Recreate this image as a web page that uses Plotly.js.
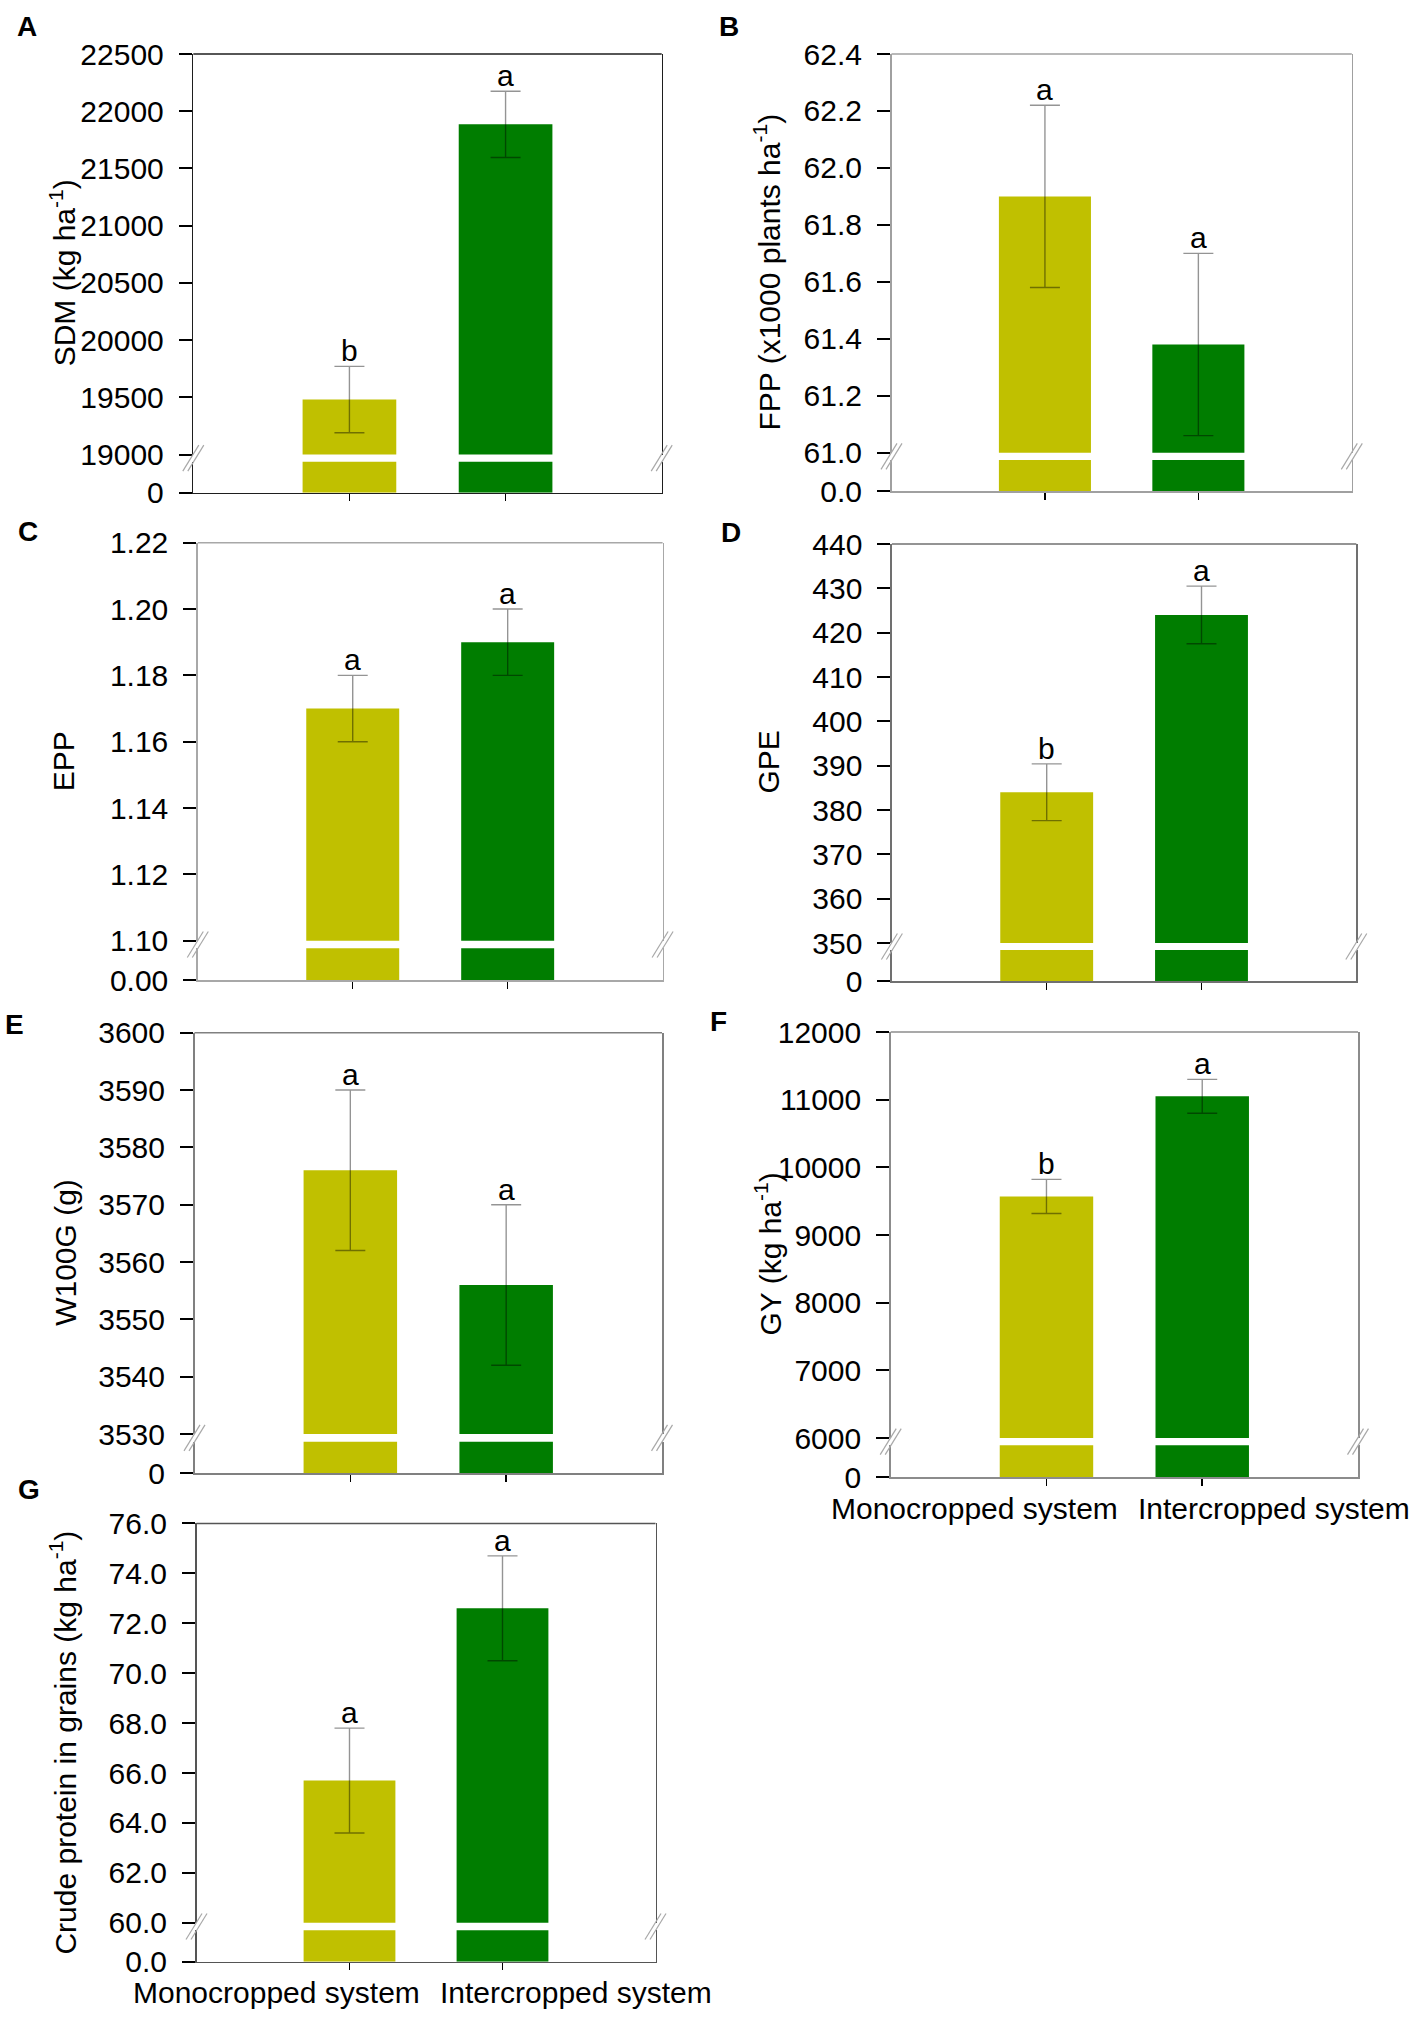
<!DOCTYPE html>
<html>
<head>
<meta charset="utf-8">
<script src="https://cdn.plot.ly/plotly-3.0.1.min.js"></script>
<style>html,body{margin:0;padding:0;background:#fff;}#chart{width:1418px;height:2018px;}</style>
</head>
<body>
<div id="chart"></div>
<script>
// ---------------- DATA ----------------
const categories = ['Monocropped system', 'Intercropped system'];
const barColors = ['#C0C000', '#007D00'];

const sdmMean = [19480, 21885];
const sdmErr = [290, 290];
const sdmLetters = ['b', 'a'];
const sdmTicks = [19000, 19500, 20000, 20500, 21000, 21500, 22000, 22500];
const sdmTickText = ['19000', '19500', '20000', '20500', '21000', '21500', '22000', '22500'];

const fppMean = [61.90, 61.38];
const fppErr = [0.32, 0.32];
const fppLetters = ['a', 'a'];
const fppTicks = [61.0, 61.2, 61.4, 61.6, 61.8, 62.0, 62.2, 62.4];
const fppTickText = ['61.0', '61.2', '61.4', '61.6', '61.8', '62.0', '62.2', '62.4'];

const eppMean = [1.17, 1.19];
const eppErr = [0.01, 0.01];
const eppLetters = ['a', 'a'];
const eppTicks = [1.10, 1.12, 1.14, 1.16, 1.18, 1.20, 1.22];
const eppTickText = ['1.10', '1.12', '1.14', '1.16', '1.18', '1.20', '1.22'];

const gpeMean = [384, 424];
const gpeErr = [6.4, 6.5];
const gpeLetters = ['b', 'a'];
const gpeTicks = [350, 360, 370, 380, 390, 400, 410, 420, 430, 440];
const gpeTickText = ['350', '360', '370', '380', '390', '400', '410', '420', '430', '440'];

const w100gMean = [3576, 3556];
const w100gErr = [14, 14];
const w100gLetters = ['a', 'a'];
const w100gTicks = [3530, 3540, 3550, 3560, 3570, 3580, 3590, 3600];
const w100gTickText = ['3530', '3540', '3550', '3560', '3570', '3580', '3590', '3600'];

const gyMean = [9570, 11050];
const gyErr = [252, 250];
const gyLetters = ['b', 'a'];
const gyTicks = [6000, 7000, 8000, 9000, 10000, 11000, 12000];
const gyTickText = ['6000', '7000', '8000', '9000', '10000', '11000', '12000'];

const cpMean = [65.7, 72.6];
const cpErr = [2.1, 2.1];
const cpLetters = ['a', 'a'];
const cpTicks = [60, 62, 64, 66, 68, 70, 72, 74, 76];
const cpTickText = ['60.0', '62.0', '64.0', '66.0', '68.0', '70.0', '72.0', '74.0', '76.0'];

const panelLetters = ['A', 'B', 'C', 'D', 'E', 'F', 'G'];
const yTitles = [
  'SDM (kg ha<sup>-1</sup>)',
  'FPP (x1000 plants ha<sup>-1</sup>)',
  'EPP',
  'GPE',
  'W100G (g)',
  'GY (kg ha<sup>-1</sup>)',
  'Crude protein in grains (kg ha<sup>-1</sup>)'
];
const zeroLabels = ['0', '0.0', '0.00', '0', '0', '0', '0.0'];

// ---------------- LAYOUT GEOMETRY (pixels) ----------------
const W = 1418, H = 2018;
const FONT = 'Liberation Sans, Arial, Helvetica, sans-serif';
const px = v => v / W;
const py = v => 1 - v / H;

const geom = [
  {x0: 193.3, x1: 661.7, top: 54,     brk: 454.5, gapB: 461.7, bot: 492.7, frame: '#1e1e1e', lx: 27,  ly: 26,   tx: 63},
  {x0: 891.5, x1: 1351.8, top: 54,    brk: 452.7, gapB: 460.0, bot: 491.0, frame: '#a0a0a0', lx: 729, ly: 26,   tx: 767},
  {x0: 197.8, x1: 662.6, top: 542.7,  brk: 940.7, gapB: 948.3, bot: 980.0, frame: '#a8a8a8', lx: 28,  ly: 531,  tx: 63},
  {x0: 891.9, x1: 1356.3, top: 544,   brk: 943.0, gapB: 950.0, bot: 981.0, frame: '#707070', lx: 731, ly: 532,  tx: 768},
  {x0: 194.5, x1: 662.0, top: 1032.7, brk: 1434.0, gapB: 1441.7, bot: 1473.0, frame: '#808080', lx: 15, ly: 1024, tx: 66},
  {x0: 890.7, x1: 1358.0, top: 1032,  brk: 1438.0, gapB: 1445.2, bot: 1477.0, frame: '#8c8c8c', lx: 718, ly: 1021, tx: 768},
  {x0: 196.5, x1: 655.5, top: 1523.4, brk: 1922.8, gapB: 1930.2, bot: 1961.7, frame: '#555555', lx: 29, ly: 1489, tx: 63}
];

const series = [
  {mean: sdmMean, err: sdmErr, letters: sdmLetters, ticks: sdmTicks, tickText: sdmTickText},
  {mean: fppMean, err: fppErr, letters: fppLetters, ticks: fppTicks, tickText: fppTickText},
  {mean: eppMean, err: eppErr, letters: eppLetters, ticks: eppTicks, tickText: eppTickText},
  {mean: gpeMean, err: gpeErr, letters: gpeLetters, ticks: gpeTicks, tickText: gpeTickText},
  {mean: w100gMean, err: w100gErr, letters: w100gLetters, ticks: w100gTicks, tickText: w100gTickText},
  {mean: gyMean, err: gyErr, letters: gyLetters, ticks: gyTicks, tickText: gyTickText},
  {mean: cpMean, err: cpErr, letters: cpLetters, ticks: cpTicks, tickText: cpTickText}
];

const catLabelPanels = {5: 1508, 6: 1992}; // panel index -> label centre y (px)

const traces = [];
const layout = {
  width: W, height: H,
  margin: {l: 0, r: 0, t: 0, b: 0},
  paper_bgcolor: '#ffffff', plot_bgcolor: 'rgba(0,0,0,0)',
  showlegend: false,
  font: {family: FONT, size: 30, color: '#000'},
  shapes: [], annotations: []
};

function axName(prefix, n) { return n === 1 ? prefix : prefix + n; }
function axKey(prefix, n) { return n === 1 ? prefix + 'axis' : prefix + 'axis' + n; }

series.forEach((s, i) => {
  const g = geom[i];
  const xi = i + 1, yu = 2 * i + 1, yl = 2 * i + 2;
  const xN = axName('x', xi), yuN = axName('y', yu), ylN = axName('y', yl);

  // upper part (with error bars)
  traces.push({
    type: 'bar', x: categories, y: s.mean, xaxis: xN, yaxis: yuN,
    width: 0.6, marker: {color: barColors, line: {width: 0}},
    error_y: {type: 'data', array: s.err, visible: true, color: 'rgba(0,0,0,0.42)', thickness: 1.4, width: 15},
    hoverinfo: 'skip'
  });
  // lower part (below axis break)
  traces.push({
    type: 'bar', x: categories, y: s.mean, xaxis: xN, yaxis: ylN,
    width: 0.6, marker: {color: barColors, line: {width: 0}},
    hoverinfo: 'skip'
  });

  layout[axKey('x', xi)] = {
    domain: [px(g.x0), px(g.x1)], anchor: ylN, type: 'category',
    categoryorder: 'array', categoryarray: categories,
    range: [-1, 2], showticklabels: false,
    ticks: 'outside', ticklen: 7, tickwidth: 1.5, tickcolor: '#000',
    showline: true, linecolor: g.frame, linewidth: 1.5,
    showgrid: false, zeroline: false, fixedrange: true
  };
  const lo = s.ticks[0], hi = s.ticks[s.ticks.length - 1];
  layout[axKey('y', yu)] = {
    domain: [py(g.brk), py(g.top)], anchor: xN, range: [lo, hi],
    tickmode: 'array', tickvals: s.ticks, ticktext: s.tickText,
    ticks: 'outside', ticklen: 13, tickwidth: 2, tickcolor: '#000',
    ticklabelstandoff: 9,
    tickfont: {family: FONT, size: 30, color: '#000'},
    showline: true, mirror: true, linecolor: g.frame, linewidth: 1.5,
    showgrid: false, zeroline: false, fixedrange: true
  };
  layout[axKey('y', yl)] = {
    domain: [py(g.bot), py(g.gapB)], anchor: xN, range: [0, 1],
    tickmode: 'array', tickvals: [0], ticktext: [zeroLabels[i]],
    ticks: 'outside', ticklen: 13, tickwidth: 2, tickcolor: '#000',
    ticklabelstandoff: 9,
    tickfont: {family: FONT, size: 30, color: '#000'},
    showline: true, mirror: true, linecolor: g.frame, linewidth: 1.5,
    showgrid: false, zeroline: false, fixedrange: true
  };

  // top frame line
  layout.shapes.push({type: 'line', xref: 'paper', yref: 'paper',
    x0: px(g.x0), x1: px(g.x1), y0: py(g.top), y1: py(g.top),
    line: {color: g.frame, width: 1.5}});

  // break marks "//" on both sides
  const yc = (g.brk + g.gapB) / 2;
  [g.x0, g.x1].forEach(xa => {
    [-2.5, 2.5].forEach(d => {
      layout.shapes.push({type: 'line', xref: 'paper', yref: 'paper',
        x0: px(xa - 8 + d), y0: py(yc + 13), x1: px(xa + 8 + d), y1: py(yc - 13),
        line: {color: '#a8a8a8', width: 1.2}});
    });
  });

  // significance letters
  s.letters.forEach((L, k) => {
    layout.annotations.push({
      xref: xN, yref: yuN, x: categories[k], y: s.mean[k] + s.err[k],
      text: L, showarrow: false, xanchor: 'center', yanchor: 'bottom', yshift: -3,
      font: {family: FONT, size: 30, color: '#000'}
    });
  });

  // panel letter
  layout.annotations.push({
    xref: 'paper', yref: 'paper', x: px(g.lx), y: py(g.ly),
    text: '<b>' + panelLetters[i] + '</b>', showarrow: false,
    xanchor: 'center', yanchor: 'middle',
    font: {family: FONT, size: 28, color: '#000'}
  });

  // y title
  layout.annotations.push({
    xref: 'paper', yref: 'paper', x: px(g.tx), y: py((g.top + g.bot) / 2),
    text: yTitles[i], showarrow: false, textangle: -90,
    xanchor: 'center', yanchor: 'middle',
    font: {family: FONT, size: 30, color: '#000'}
  });

  // category labels
  if (catLabelPanels[i] !== undefined) {
    const ly = catLabelPanels[i];
    layout.annotations.push({
      xref: xN, yref: 'paper', x: 0.5, y: py(ly), text: categories[0],
      showarrow: false, xanchor: 'right', yanchor: 'middle', xshift: -4,
      font: {family: FONT, size: 30, color: '#000'}
    });
    layout.annotations.push({
      xref: xN, yref: 'paper', x: 0.5, y: py(ly), text: categories[1],
      showarrow: false, xanchor: 'left', yanchor: 'middle', xshift: 12,
      font: {family: FONT, size: 30, color: '#000'}
    });
  }
});

Plotly.newPlot('chart', traces, layout, {staticPlot: true, displayModeBar: false});
</script>
</body>
</html>
